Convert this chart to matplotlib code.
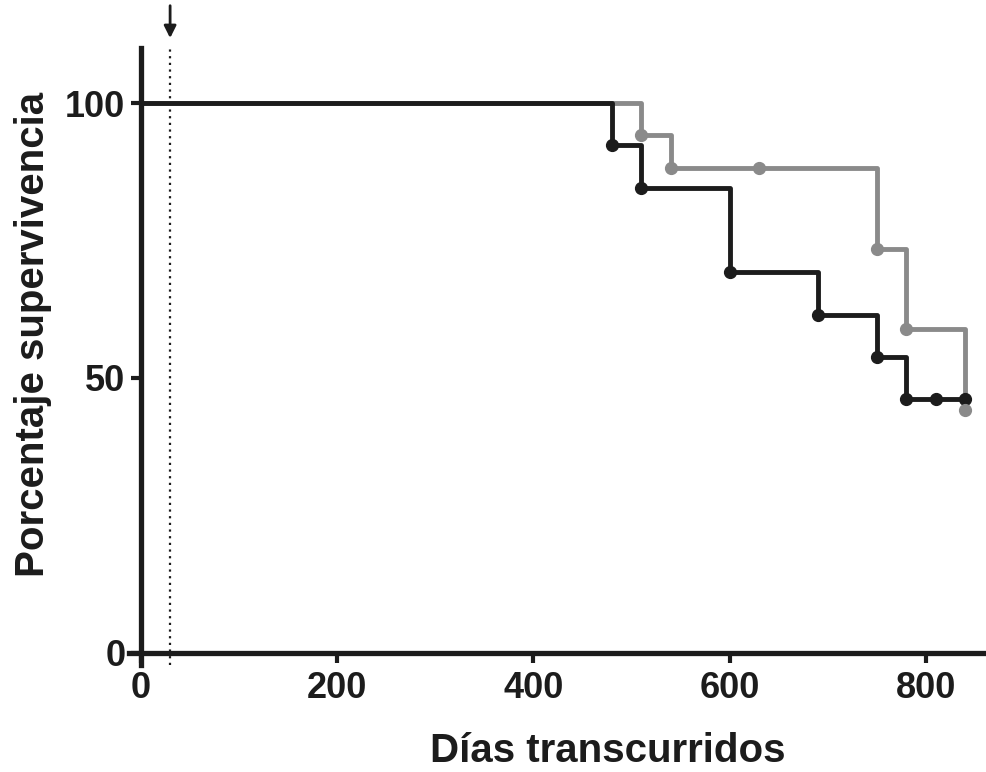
import matplotlib
matplotlib.use("Agg")
import matplotlib.pyplot as plt

plt.rcParams["font.family"] = ["Liberation Sans", "DejaVu Sans"]
plt.rcParams["font.weight"] = "bold"
plt.rcParams["axes.labelweight"] = "bold"

# Kaplan-Meier steps (day, % survival) for the two groups
black_days = [0, 480, 510, 600, 690, 750, 780, 810, 840]
black_surv = [100, 92.31, 84.62, 69.23, 61.54, 53.85, 46.15, 46.15, 46.15]
black_mark_days = [480, 510, 600, 690, 750, 780, 810, 840]
black_mark_surv = [92.31, 84.62, 69.23, 61.54, 53.85, 46.15, 46.15, 46.15]

gray_days = [0, 510, 540, 630, 750, 780, 840]
gray_surv = [100, 94.12, 88.24, 88.24, 73.53, 58.82, 44.12]
gray_mark_days = [510, 540, 630, 750, 780, 840]
gray_mark_surv = [94.12, 88.24, 88.24, 73.53, 58.82, 44.12]

treat_day = 30
xticks = [0, 200, 400, 600, 800]
yticks = [0, 50, 100]

ink = "#1c1c1c"
gray = "#8a8a8a"

fig = plt.figure(figsize=(9.86, 7.72), dpi=100)
ax = fig.add_axes([0.1307, 0.1385, 0.8693, 0.7993])

ax.axvline(treat_day, color=ink, lw=1.6, ls=(0, (1, 2)), zorder=1)

ax.step(black_days, black_surv, where="post", color=ink, lw=3.5, zorder=3)
ax.plot(black_mark_days, black_mark_surv, "o", color=ink, ms=8.5, zorder=4)
ax.step(gray_days, gray_surv, where="post", color=gray, lw=3.5, zorder=2)
ax.plot(gray_mark_days, gray_mark_surv, "o", color=gray, ms=8.5, zorder=4)

ax.set_xlim(-12, 861)
ax.set_ylim(-2.2, 110)

for s in ["top", "right"]:
    ax.spines[s].set_visible(False)
for s in ["left", "bottom"]:
    ax.spines[s].set_position(("data", 0))
    ax.spines[s].set_linewidth(3.8)
    ax.spines[s].set_color(ink)

ax.set_xticks(xticks)
ax.set_yticks(yticks)
ax.tick_params(axis="both", length=7, width=3, color=ink, labelsize=26,
               labelcolor=ink)
ax.tick_params(axis="x", pad=6)
ax.tick_params(axis="y", pad=4)

ax.set_xlabel("Días transcurridos", fontsize=29, color=ink)
ax.set_ylabel("Porcentaje supervivencia", fontsize=29, color=ink)
ax.xaxis.set_label_coords(0.559, -0.109)
ax.yaxis.set_label_coords(-0.09, 0.536)

# arrow marking the treatment day above the plot
ax.annotate("", xy=(treat_day, 111.3), xytext=(treat_day, 118.2),
            xycoords="data", annotation_clip=False,
            arrowprops=dict(arrowstyle="-|>", color=ink, lw=2,
                            mutation_scale=18))

fig.savefig("out.png", dpi=100)
